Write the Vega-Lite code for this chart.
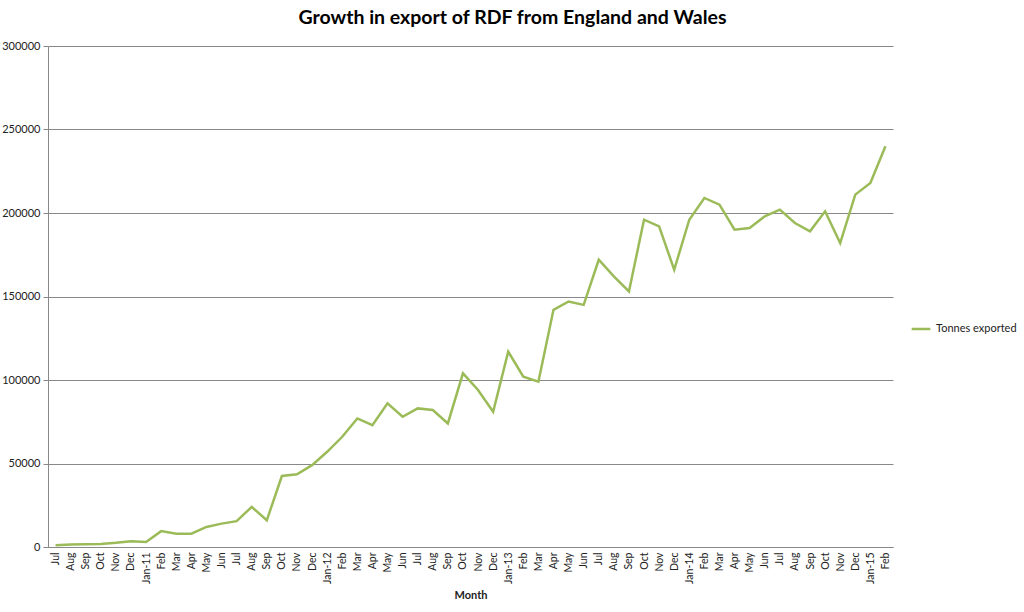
{
  "$schema": "https://vega.github.io/schema/vega-lite/v6.json",
  "autosize": "none",
  "width": 845,
  "height": 501,
  "padding": {"left": 48, "top": 46, "right": 131, "bottom": 65},
  "background": "white",
  "config": {
    "font": "Lato",
    "view": {"stroke": null}
  },
  "title": {
    "text": "Growth in export of RDF from England and Wales",
    "fontSize": 19.5,
    "fontWeight": "bold",
    "font": "Lato",
    "color": "#000000",
    "anchor": "middle",
    "dx": 42,
    "offset": 12
  },
  "data": {
    "values": [
      {"month": "2010-07", "tonnes": 1000, "series": "Tonnes exported"},
      {"month": "2010-08", "tonnes": 1500, "series": "Tonnes exported"},
      {"month": "2010-09", "tonnes": 1700, "series": "Tonnes exported"},
      {"month": "2010-10", "tonnes": 1800, "series": "Tonnes exported"},
      {"month": "2010-11", "tonnes": 2500, "series": "Tonnes exported"},
      {"month": "2010-12", "tonnes": 3500, "series": "Tonnes exported"},
      {"month": "2011-01", "tonnes": 3000, "series": "Tonnes exported"},
      {"month": "2011-02", "tonnes": 9500, "series": "Tonnes exported"},
      {"month": "2011-03", "tonnes": 8000, "series": "Tonnes exported"},
      {"month": "2011-04", "tonnes": 8000, "series": "Tonnes exported"},
      {"month": "2011-05", "tonnes": 12000, "series": "Tonnes exported"},
      {"month": "2011-06", "tonnes": 14000, "series": "Tonnes exported"},
      {"month": "2011-07", "tonnes": 15500, "series": "Tonnes exported"},
      {"month": "2011-08", "tonnes": 24000, "series": "Tonnes exported"},
      {"month": "2011-09", "tonnes": 16000, "series": "Tonnes exported"},
      {"month": "2011-10", "tonnes": 42500, "series": "Tonnes exported"},
      {"month": "2011-11", "tonnes": 43500, "series": "Tonnes exported"},
      {"month": "2011-12", "tonnes": 49000, "series": "Tonnes exported"},
      {"month": "2012-01", "tonnes": 57000, "series": "Tonnes exported"},
      {"month": "2012-02", "tonnes": 66000, "series": "Tonnes exported"},
      {"month": "2012-03", "tonnes": 77000, "series": "Tonnes exported"},
      {"month": "2012-04", "tonnes": 73000, "series": "Tonnes exported"},
      {"month": "2012-05", "tonnes": 86000, "series": "Tonnes exported"},
      {"month": "2012-06", "tonnes": 78000, "series": "Tonnes exported"},
      {"month": "2012-07", "tonnes": 83000, "series": "Tonnes exported"},
      {"month": "2012-08", "tonnes": 82000, "series": "Tonnes exported"},
      {"month": "2012-09", "tonnes": 74000, "series": "Tonnes exported"},
      {"month": "2012-10", "tonnes": 104000, "series": "Tonnes exported"},
      {"month": "2012-11", "tonnes": 94000, "series": "Tonnes exported"},
      {"month": "2012-12", "tonnes": 81000, "series": "Tonnes exported"},
      {"month": "2013-01", "tonnes": 117000, "series": "Tonnes exported"},
      {"month": "2013-02", "tonnes": 102000, "series": "Tonnes exported"},
      {"month": "2013-03", "tonnes": 99000, "series": "Tonnes exported"},
      {"month": "2013-04", "tonnes": 142000, "series": "Tonnes exported"},
      {"month": "2013-05", "tonnes": 147000, "series": "Tonnes exported"},
      {"month": "2013-06", "tonnes": 145000, "series": "Tonnes exported"},
      {"month": "2013-07", "tonnes": 172000, "series": "Tonnes exported"},
      {"month": "2013-08", "tonnes": 162000, "series": "Tonnes exported"},
      {"month": "2013-09", "tonnes": 153000, "series": "Tonnes exported"},
      {"month": "2013-10", "tonnes": 196000, "series": "Tonnes exported"},
      {"month": "2013-11", "tonnes": 192000, "series": "Tonnes exported"},
      {"month": "2013-12", "tonnes": 166000, "series": "Tonnes exported"},
      {"month": "2014-01", "tonnes": 196000, "series": "Tonnes exported"},
      {"month": "2014-02", "tonnes": 209000, "series": "Tonnes exported"},
      {"month": "2014-03", "tonnes": 205000, "series": "Tonnes exported"},
      {"month": "2014-04", "tonnes": 190000, "series": "Tonnes exported"},
      {"month": "2014-05", "tonnes": 191000, "series": "Tonnes exported"},
      {"month": "2014-06", "tonnes": 198000, "series": "Tonnes exported"},
      {"month": "2014-07", "tonnes": 202000, "series": "Tonnes exported"},
      {"month": "2014-08", "tonnes": 194000, "series": "Tonnes exported"},
      {"month": "2014-09", "tonnes": 189000, "series": "Tonnes exported"},
      {"month": "2014-10", "tonnes": 201000, "series": "Tonnes exported"},
      {"month": "2014-11", "tonnes": 182000, "series": "Tonnes exported"},
      {"month": "2014-12", "tonnes": 211000, "series": "Tonnes exported"},
      {"month": "2015-01", "tonnes": 218000, "series": "Tonnes exported"},
      {"month": "2015-02", "tonnes": 240000, "series": "Tonnes exported"}
    ]
  },
  "mark": {"type": "line", "strokeWidth": 2.5, "strokeJoin": "miter"},
  "encoding": {
    "x": {
      "field": "month",
      "type": "ordinal",
      "sort": null,
      "scale": {"padding": 0.5},
      "axis": {
        "title": "Month",
        "titleFontSize": 11,
        "titleFontWeight": "bold",
        "titleColor": "#222222",
        "titlePadding": 6,
        "labelAngle": -90,
        "labelFontSize": 10.5,
        "labelColor": "#222222",
        "labelPadding": 5,
        "labelExpr": "utcFormat(toDate(datum.value + '-01'), substring(datum.value, 5, 7) == '01' ? '%b-%y' : '%b')",
        "ticks": false,
        "domainColor": "#888888",
        "domainWidth": 1,
        "grid": false
      }
    },
    "y": {
      "field": "tonnes",
      "type": "quantitative",
      "scale": {"domain": [0, 300000], "nice": false},
      "axis": {
        "title": null,
        "values": [0, 50000, 100000, 150000, 200000, 250000, 300000],
        "format": "d",
        "labelFontSize": 11,
        "labelColor": "#222222",
        "labelPadding": 3,
        "tickSize": 5,
        "tickColor": "#888888",
        "domainColor": "#888888",
        "gridColor": "#888888",
        "gridWidth": 1,
        "grid": true
      }
    },
    "color": {
      "field": "series",
      "type": "nominal",
      "scale": {"range": ["#9BBB59"]},
      "legend": {
        "title": null,
        "orient": "none",
        "legendX": 862,
        "legendY": 272,
        "symbolType": "stroke",
        "symbolStrokeWidth": 2.5,
        "symbolSize": 350,
        "labelFontSize": 11,
        "labelColor": "#222222",
        "labelOffset": 4
      }
    }
  }
}
